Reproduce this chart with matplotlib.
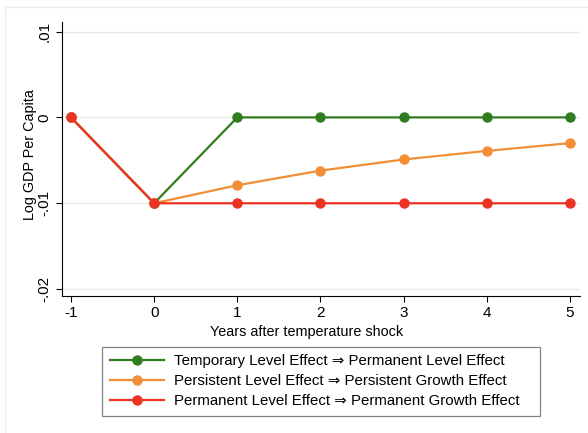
import matplotlib
matplotlib.use("Agg")
import matplotlib.pyplot as plt

plt.rcParams['font.family'] = ['Liberation Sans', 'DejaVu Sans']
plt.rcParams['axes.unicode_minus'] = False

years = [-1, 0, 1, 2, 3, 4, 5]
temporary = [0, -0.01, 0, 0, 0, 0, 0]
persistent = [0, -0.01, -0.0079, -0.0062, -0.0049, -0.0039, -0.0030]
permanent = [0, -0.01, -0.01, -0.01, -0.01, -0.01, -0.01]

labels = ['Temporary Level Effect \u21d2 Permanent Level Effect',
          'Persistent Level Effect \u21d2 Persistent Growth Effect',
          'Permanent Level Effect \u21d2 Permanent Growth Effect']
colors = ['#2f7d1e', '#f28e35', '#ec3323']

yticks = [-0.02, -0.01, 0, 0.01]
ytick_labels = ['-.02', '-.01', '0', '.01']

fig = plt.figure(figsize=(5.88, 4.33), dpi=100)
ax = fig.add_axes([0.1054, 0.3164, 0.881, 0.6326])

for vals, lab, c in zip([temporary, persistent, permanent], labels, colors):
    ax.plot(years, vals, color=c, lw=1.6, marker='o', markersize=6.5, label=lab)

ax.set_xlim(-1.108, 5.12)
ax.set_ylim(-0.0208, 0.0111)
ax.set_yticks(yticks)
ax.set_yticklabels(ytick_labels, rotation=90, va='center')
ax.set_xticks(years)
ax.tick_params(labelsize=11, color='black', length=4)
ax.grid(axis='y', color='#e3ebec', lw=1)
ax.set_axisbelow(True)
for s in ['top', 'right']:
    ax.spines[s].set_visible(False)

ax.set_xlabel('Years after temperature shock', fontsize=10.4)
ax.set_ylabel('Log GDP Per Capita', fontsize=10.4)
ax.xaxis.set_label_coords(0.473, -0.105)
ax.yaxis.set_label_coords(-0.049, 0.515)

# legend box spans roughly x 102..540 px in the reference
leg = fig.legend(loc='center', bbox_to_anchor=(102 / 588, 0.039, 438 / 588, 0.16),
                 mode='expand', fontsize=10.8,
                 frameon=True, fancybox=False, edgecolor='#666666',
                 handlelength=3.6, handletextpad=0.7, borderpad=0.5,
                 labelspacing=0.4, borderaxespad=0)
leg.get_frame().set_linewidth(0.9)

# faint outer graph-region border (top and left visible)
fig.add_artist(plt.Line2D([5 / 588, 5 / 588], [0, 1 - 7 / 433], color='#eeeeee', lw=1))
fig.add_artist(plt.Line2D([5 / 588, 1], [1 - 7 / 433, 1 - 7 / 433], color='#eeeeee', lw=1))

fig.savefig('out.png', dpi=100)
